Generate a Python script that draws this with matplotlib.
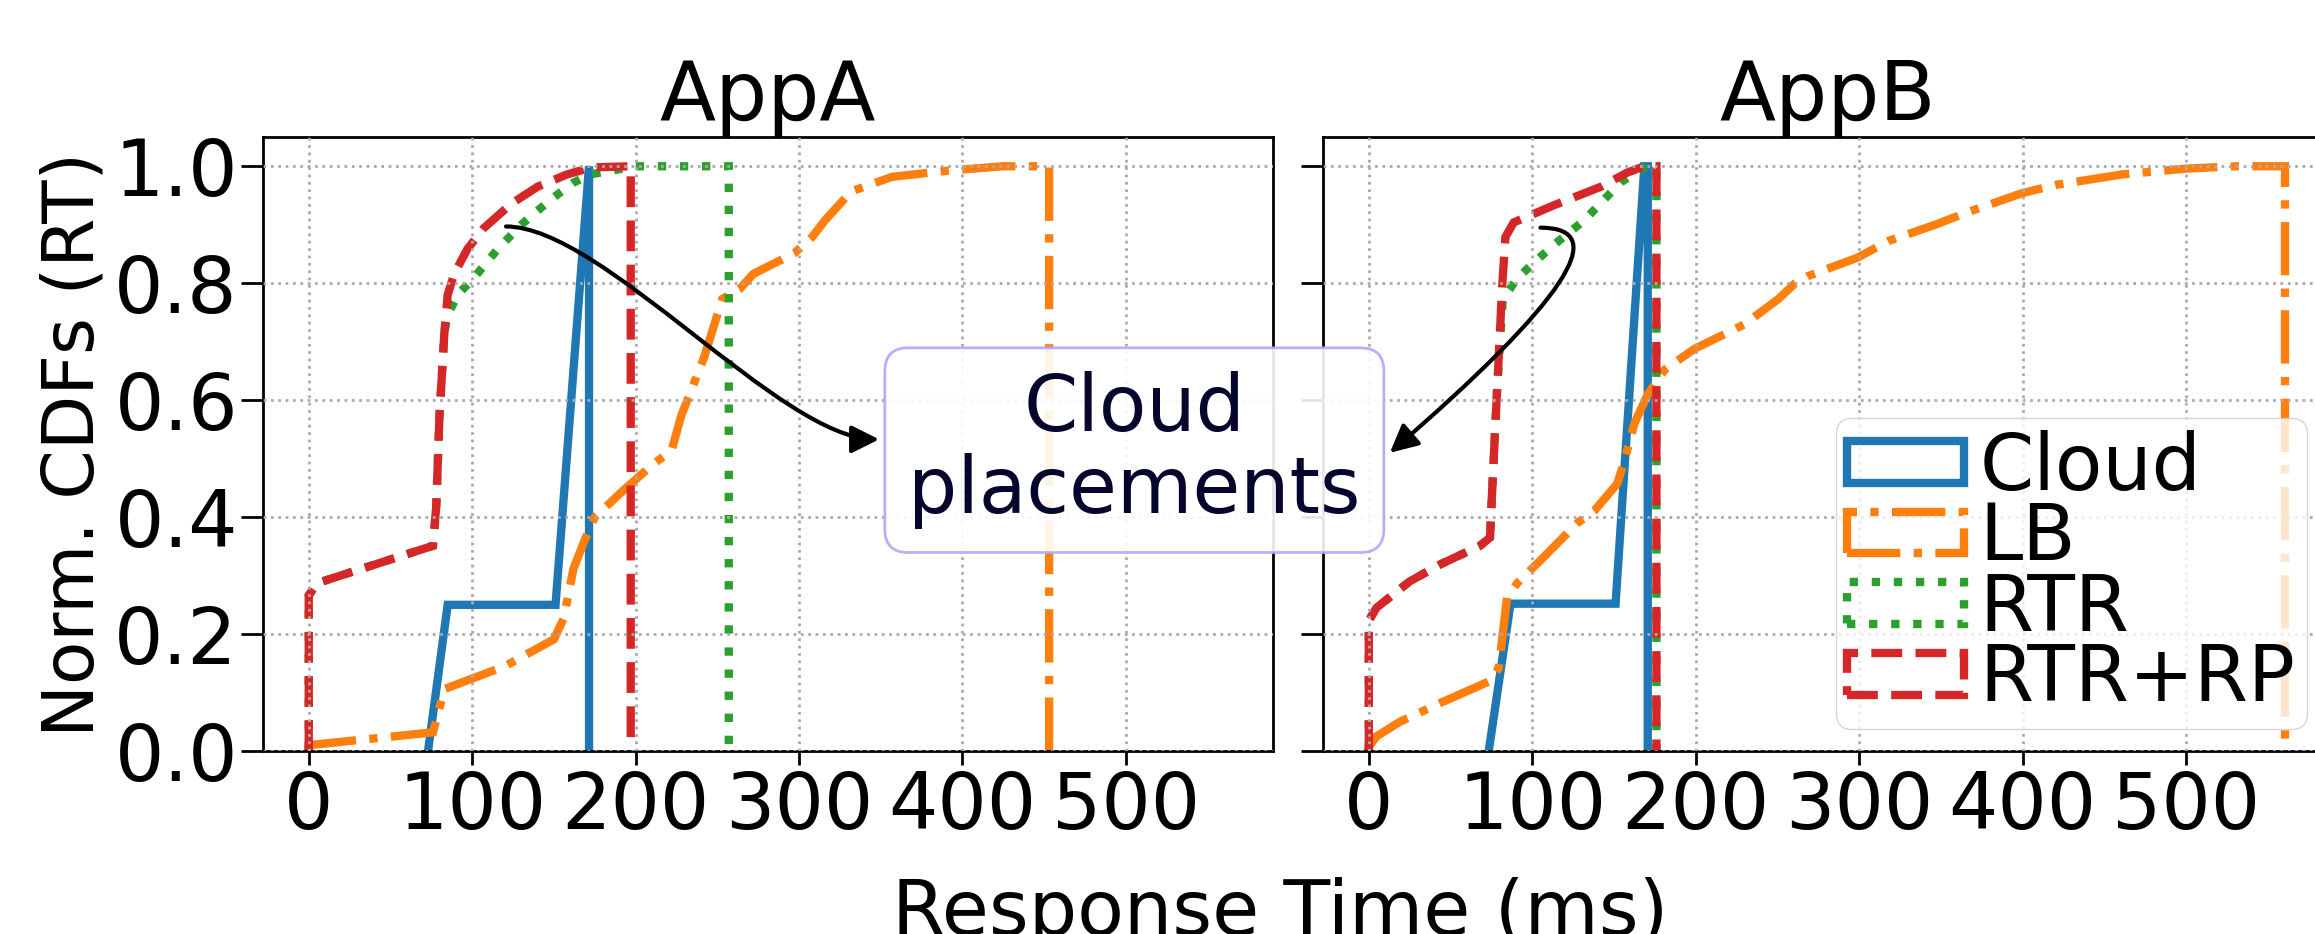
import matplotlib
matplotlib.use("Agg")
import matplotlib.pyplot as plt
from matplotlib.patches import Patch, FancyArrowPatch
from matplotlib.path import Path

# series names and styles
names = ["Cloud", "LB", "RTR", "RTR+RP"]
colors = ["#1f77b4", "#ff7f0e", "#2ca02c", "#d62728"]
styles = ["-", "-.", ":", "--"]

# AppA (response time ms, normalized CDF)
cloud_a_x = [73, 85, 151, 171.5, 171.5]
cloud_a_y = [0, 0.25, 0.25, 1.0, 0]
lb_a_x = [0, 0, 76, 83, 120, 150, 156, 162, 169, 175, 193, 210, 222, 228, 242, 253, 264,
          272, 297, 308, 316, 332, 357, 393, 425, 453, 453]
lb_a_y = [0, 0.01, 0.032, 0.106, 0.145, 0.191, 0.227, 0.312, 0.362, 0.40, 0.447, 0.489,
          0.514, 0.574, 0.674, 0.773, 0.791, 0.816, 0.851, 0.879, 0.908, 0.957, 0.982,
          0.993, 1.0, 1.0, 0]
rtr_a_x = [0, 0, 5, 76, 78, 80, 83, 85, 91, 101, 115.5, 130, 148, 162, 172, 200, 257, 257]
rtr_a_y = [0, 0.266, 0.287, 0.351, 0.418, 0.574, 0.716, 0.745, 0.78, 0.809, 0.858, 0.90,
           0.943, 0.972, 0.986, 1.0, 1.0, 0]
rtrrp_a_x = [0, 0, 5, 76, 78, 80, 83, 85, 89, 97, 107, 124, 140, 158, 173, 197, 197]
rtrrp_a_y = [0, 0.266, 0.287, 0.351, 0.418, 0.574, 0.716, 0.78, 0.816, 0.858, 0.894,
             0.936, 0.965, 0.986, 0.998, 1.0, 0]

# AppB
cloud_b_x = [73.4, 86.7, 151, 168.6, 170.7, 170.7]
cloud_b_y = [0, 0.252, 0.252, 1.0, 1.0, 0]
lb_b_x = [0, 0, 4.7, 19, 43.6, 74.4, 79.5, 84.6, 90.8, 105, 127.7, 138, 152, 156.4, 162.5,
          170.7, 181, 199.4, 220, 230, 250.6, 260.9, 268.6, 299.3, 317.8, 346.5, 367,
          399.7, 420, 461, 500, 531, 560.6, 560.6]
lb_b_y = [0, 0.007, 0.025, 0.05, 0.082, 0.12, 0.142, 0.262, 0.287, 0.326, 0.39, 0.411,
          0.457, 0.496, 0.56, 0.61, 0.652, 0.688, 0.716, 0.73, 0.773, 0.80, 0.812, 0.844,
          0.872, 0.90, 0.922, 0.954, 0.968, 0.986, 0.996, 1.0, 1.0, 0]
rtr_b_x = [0, 0, 4.7, 25, 43.6, 68, 74.2, 75.4, 78.5, 82, 91, 103, 113, 132, 144, 154,
           166.6, 176, 176]
rtr_b_y = [0, 0.223, 0.245, 0.29, 0.319, 0.351, 0.365, 0.44, 0.617, 0.773, 0.809, 0.84,
           0.865, 0.908, 0.943, 0.972, 0.996, 1.0, 0]
rtrrp_b_x = [0, 0, 4.7, 25, 43.6, 68, 74.2, 75.4, 78.5, 81.6, 83.6, 88.7, 113, 142, 158,
             168.6, 176, 176]
rtrrp_b_y = [0, 0.223, 0.245, 0.29, 0.319, 0.351, 0.365, 0.44, 0.617, 0.794, 0.879, 0.904,
             0.933, 0.965, 0.989, 1.0, 1.0, 0]

apps = ["AppA", "AppB"]
series = [
    [(cloud_a_x, cloud_a_y), (lb_a_x, lb_a_y), (rtr_a_x, rtr_a_y), (rtrrp_a_x, rtrrp_a_y)],
    [(cloud_b_x, cloud_b_y), (lb_b_x, lb_b_y), (rtr_b_x, rtr_b_y), (rtrrp_b_x, rtrrp_b_y)],
]

FS = 56
LW = 6
plt.rcParams["font.size"] = FS

fig = plt.figure(figsize=(23.15, 9.34), dpi=100)
ax1 = fig.add_axes([0.1136, 0.1959, 0.4363, 0.6574])
ax2 = fig.add_axes([0.5715, 0.1959, 0.4363, 0.6574], sharex=ax1, sharey=ax1)

for ax, app, data in zip([ax1, ax2], apps, series):
    for (x, y), c, ls in zip(data, colors, styles):
        ax.plot(x, y, color=c, ls=ls, lw=LW, solid_joinstyle="miter",
                dash_joinstyle="miter")
    ax.set_title(app, fontsize=59, pad=12)
    ax.grid(True, ls=":", color="#aaaaaa", lw=2)
    ax.set_axisbelow(False)
    ax.tick_params(axis="y", length=16, width=2, pad=2)
    ax.tick_params(axis="x", length=10, width=2, pad=3)
    for s in ax.spines.values():
        s.set_linewidth(2)

ax1.set_xlim(-28, 590)
ax1.set_ylim(0, 1.05)
ax1.set_xticks([0, 100, 200, 300, 400, 500])
ax1.set_yticks([0, 0.2, 0.4, 0.6, 0.8, 1.0])
ax1.set_yticklabels(["0.0", "0.2", "0.4", "0.6", "0.8", "1.0"])
ax2.tick_params(axis="y", labelleft=False)
ax1.set_ylabel("Norm. CDFs (RT)", fontsize=51, labelpad=4)

fig.text(1280 / 2315, -1 / 934, "Response Time (ms)", ha="center", va="baseline",
         fontsize=55)

handles = [Patch(facecolor="none", edgecolor=c, linestyle=ls, linewidth=LW)
           for c, ls in zip(colors, styles)]
ax2.legend(handles, names, loc="lower right", bbox_to_anchor=(2307 / 2315, 205 / 934),
           bbox_transform=fig.transFigure, borderaxespad=0, fontsize=FS,
           handlelength=1.5, handleheight=0.45, handletextpad=0.2, labelspacing=-0.07,
           borderpad=0.15)

# annotation box and curved arrows
fig.text(0.49, 0.518, "Cloud\nplacements", ha="center", va="center", fontsize=FS,
         color="#05052e", linespacing=1.1, zorder=10,
         bbox=dict(boxstyle="round,pad=0.3", fc="white", ec="#aaaaff", lw=2, alpha=0.9))

path_a = Path([(120.7, 0.897), (180, 0.897), (289, 0.533), (349, 0.533)],
              [Path.MOVETO, Path.CURVE4, Path.CURVE4, Path.CURVE4])
arr_a = FancyArrowPatch(path=path_a, transform=ax1.transData, arrowstyle="-|>",
                        mutation_scale=42, lw=3, color="black", clip_on=False, zorder=11)
fig.add_artist(arr_a)

path_b = Path([(105, 0.895), (172.5, 0.895), (12.9, 0.51)],
              [Path.MOVETO, Path.CURVE3, Path.CURVE3])
arr_b = FancyArrowPatch(path=path_b, transform=ax2.transData, arrowstyle="-|>",
                        mutation_scale=42, lw=3, color="black", clip_on=False, zorder=11)
fig.add_artist(arr_b)

fig.savefig("out.png", dpi=100)
